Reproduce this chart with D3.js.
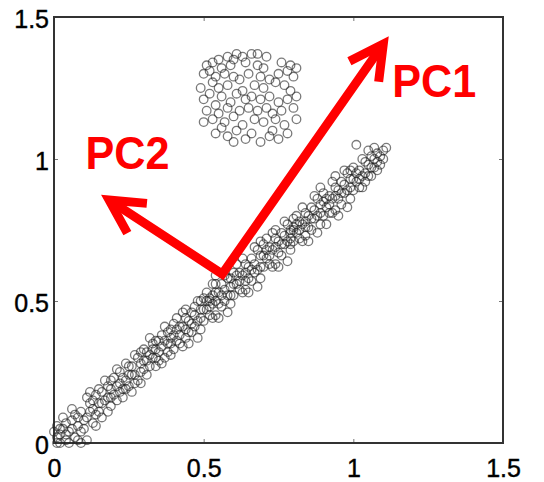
<!DOCTYPE html>
<html lang="en">
  <head>
    <meta charset="utf-8" />
    <title>PCA scatter</title>
    <script src="https://d3js.org/d3.v7.min.js"></script>
    <style type="text/css">
      body {
        margin: 0;
        background: #fff;
      }
      .axis text {
        font-family: "Liberation Sans", Arial, sans-serif;
        font-size: 25px;
        fill: #000;
        stroke: #000;
        stroke-width: 0.4px;
      }
      .axis line {
        stroke: #777;
      }
      .pc-label {
        font-family: "Liberation Sans", Arial, sans-serif;
        font-weight: bold;
        font-size: 46px;
        fill: #f00;
      }
    </style>
  </head>
  <body>
    <script type="text/javascript">
      //Width and height
      var w = 544;
      var h = 482;

      //Tick values
      var tickValues = [0, 0.5, 1, 1.5];

      //Points along the diagonal band
      var bandPoints = [
        [0.01, 0.02], [0.02, 0.0], [0.03, 0.05], [0.01, 0.06], [0.04, 0.01],
        [0.05, 0.04], [0.06, 0.08], [0.03, 0.09], [0.07, 0.02], [0.08, 0.06],
        [0.09, 0.11], [0.06, 0.12], [0.1, 0.05], [0.08, 0.01], [0.02, 0.03],
        [0.05, 0.0], [0.09, 0.0], [0.11, 0.01], [0.04, 0.07], [0.07, 0.1],
        [0.0, 0.04], [0.01, 0.0],
        [0.11, 0.09], [0.12, 0.14], [0.13, 0.07], [0.14, 0.17], [0.15, 0.11],
        [0.16, 0.09], [0.12, 0.18], [0.17, 0.15], [0.18, 0.2], [0.19, 0.13],
        [0.15, 0.19], [0.2, 0.17], [0.13, 0.12], [0.17, 0.22], [0.18, 0.11],
        [0.14, 0.06], [0.11, 0.16], [0.19, 0.19], [0.16, 0.14], [0.2, 0.23],
        [0.21, 0.15], [0.22, 0.25], [0.23, 0.19], [0.24, 0.22], [0.25, 0.27],
        [0.26, 0.18], [0.27, 0.24], [0.28, 0.3], [0.29, 0.21], [0.3, 0.26],
        [0.22, 0.21], [0.24, 0.28], [0.26, 0.24], [0.28, 0.22], [0.21, 0.26],
        [0.25, 0.2], [0.27, 0.31], [0.29, 0.28], [0.23, 0.16], [0.3, 0.33],
        [0.31, 0.24], [0.32, 0.31], [0.33, 0.35], [0.34, 0.27], [0.35, 0.32],
        [0.36, 0.38], [0.37, 0.3], [0.38, 0.35], [0.39, 0.4], [0.4, 0.33],
        [0.31, 0.29], [0.33, 0.3], [0.35, 0.36], [0.37, 0.41], [0.39, 0.31],
        [0.32, 0.37], [0.34, 0.33], [0.36, 0.28], [0.38, 0.39], [0.4, 0.42],
        [0.41, 0.36], [0.42, 0.41], [0.43, 0.34], [0.44, 0.44], [0.45, 0.39],
        [0.46, 0.46], [0.47, 0.41], [0.48, 0.37], [0.49, 0.47], [0.5, 0.43],
        [0.42, 0.38], [0.44, 0.4], [0.46, 0.42], [0.48, 0.5], [0.41, 0.44],
        [0.43, 0.46], [0.45, 0.35], [0.47, 0.48], [0.49, 0.4], [0.5, 0.51],
        [0.51, 0.47], [0.52, 0.51], [0.53, 0.44], [0.54, 0.53], [0.55, 0.49],
        [0.56, 0.56], [0.57, 0.5], [0.58, 0.46], [0.59, 0.55], [0.6, 0.52],
        [0.52, 0.48], [0.54, 0.45], [0.56, 0.52], [0.58, 0.58], [0.51, 0.53],
        [0.53, 0.56], [0.55, 0.44], [0.57, 0.59], [0.59, 0.49], [0.6, 0.6],
        [0.52, 0.5], [0.53, 0.52], [0.54, 0.59],
        [0.61, 0.56], [0.62, 0.6], [0.63, 0.53], [0.64, 0.63], [0.65, 0.58],
        [0.66, 0.65], [0.67, 0.6], [0.68, 0.55], [0.69, 0.66], [0.7, 0.62],
        [0.62, 0.57], [0.64, 0.54], [0.66, 0.61], [0.68, 0.68], [0.61, 0.63],
        [0.63, 0.65], [0.65, 0.53], [0.67, 0.69], [0.69, 0.58], [0.7, 0.7],
        [0.71, 0.65], [0.72, 0.69], [0.73, 0.62], [0.74, 0.72], [0.75, 0.67],
        [0.76, 0.74], [0.77, 0.7], [0.78, 0.64], [0.79, 0.75], [0.8, 0.71],
        [0.72, 0.66], [0.74, 0.63], [0.76, 0.7], [0.78, 0.77], [0.71, 0.72],
        [0.73, 0.74], [0.75, 0.62], [0.77, 0.78], [0.79, 0.68], [0.8, 0.79],
        [0.79, 0.74], [0.8, 0.75],
        [0.81, 0.74], [0.82, 0.78], [0.83, 0.71], [0.84, 0.81], [0.85, 0.76],
        [0.86, 0.83], [0.87, 0.79], [0.88, 0.74], [0.89, 0.84], [0.9, 0.8],
        [0.82, 0.75], [0.84, 0.73], [0.86, 0.79], [0.88, 0.86], [0.81, 0.8],
        [0.83, 0.83], [0.85, 0.71], [0.87, 0.87], [0.89, 0.77], [0.9, 0.88],
        [0.91, 0.83], [0.92, 0.87], [0.93, 0.81], [0.94, 0.9], [0.95, 0.86],
        [0.96, 0.92], [0.97, 0.88], [0.98, 0.83], [0.99, 0.93], [1.0, 0.89],
        [0.92, 0.84], [0.94, 0.82], [0.96, 0.88], [0.98, 0.95], [0.91, 0.77],
        [0.93, 0.92], [0.95, 0.8], [0.97, 0.96], [0.99, 0.86], [1.0, 0.97],
        [1.01, 0.92], [1.02, 0.96], [1.03, 0.9], [1.04, 0.99], [1.05, 0.94],
        [1.06, 1.01], [1.07, 0.97], [1.08, 1.02], [1.09, 0.98], [1.1, 1.03],
        [1.02, 0.93], [1.04, 0.95], [1.06, 0.97], [1.03, 1.0], [1.05, 1.03],
        [1.07, 1.04], [1.08, 0.99], [1.1, 1.0], [1.01, 1.05], [1.11, 1.04]
      ];

      //Extra points filling the band core
      var bandCorePoints = [
        [0.02, 0.05], [0.04, 0.03], [0.06, 0.05], [0.08, 0.09], [0.1, 0.08],
        [0.12, 0.11], [0.13, 0.15], [0.15, 0.14], [0.16, 0.18], [0.18, 0.16],
        [0.19, 0.22], [0.21, 0.2], [0.22, 0.18], [0.23, 0.23], [0.25, 0.24],
        [0.26, 0.27], [0.27, 0.21], [0.29, 0.25], [0.3, 0.29], [0.31, 0.32],
        [0.32, 0.27], [0.33, 0.33], [0.34, 0.36], [0.35, 0.29], [0.36, 0.34],
        [0.37, 0.36], [0.38, 0.32], [0.39, 0.37], [0.4, 0.38], [0.41, 0.4],
        [0.42, 0.35], [0.43, 0.41], [0.44, 0.37], [0.45, 0.43], [0.46, 0.39],
        [0.47, 0.45], [0.48, 0.43], [0.49, 0.44], [0.5, 0.47], [0.51, 0.5],
        [0.52, 0.45], [0.53, 0.49], [0.54, 0.5], [0.55, 0.53], [0.56, 0.48],
        [0.57, 0.54], [0.58, 0.52], [0.59, 0.58], [0.6, 0.56], [0.61, 0.59],
        [0.62, 0.54], [0.63, 0.59], [0.64, 0.6], [0.65, 0.62], [0.66, 0.57],
        [0.67, 0.63], [0.68, 0.61], [0.69, 0.62], [0.7, 0.66], [0.71, 0.68],
        [0.72, 0.63], [0.73, 0.68], [0.74, 0.69], [0.75, 0.71], [0.76, 0.66],
        [0.77, 0.73], [0.78, 0.71], [0.79, 0.72], [0.8, 0.76], [0.81, 0.77],
        [0.82, 0.72], [0.83, 0.77], [0.84, 0.78], [0.85, 0.8], [0.86, 0.75],
        [0.87, 0.82], [0.88, 0.8], [0.89, 0.81], [0.9, 0.85], [0.91, 0.86],
        [0.92, 0.81], [0.93, 0.86], [0.94, 0.87], [0.95, 0.89], [0.96, 0.84],
        [0.97, 0.91], [0.98, 0.89], [0.99, 0.9], [1.0, 0.93], [1.01, 0.95],
        [1.02, 0.9], [1.03, 0.94], [1.04, 0.92], [1.05, 0.98], [1.06, 0.94],
        [1.07, 1.0], [1.08, 0.96], [1.09, 1.01], [0.14, 0.1], [0.24, 0.19],
        [0.34, 0.3], [0.44, 0.47], [0.54, 0.56], [0.64, 0.57], [0.74, 0.75],
        [0.84, 0.76], [0.94, 0.94], [0.09, 0.04], [0.19, 0.16], [0.29, 0.32],
        [0.39, 0.35], [0.49, 0.5], [0.59, 0.52], [0.69, 0.71], [0.79, 0.7],
        [0.89, 0.9], [0.99, 0.96]
      ];

      //Points in the upper cluster
      var clusterPoints = [
        [0.58, 1.36], [0.61, 1.37], [0.63, 1.36], [0.66, 1.37], [0.6, 1.35],
        [0.71, 1.36], [0.55, 1.35], [0.68, 1.37],
        [0.51, 1.33], [0.53, 1.34], [0.56, 1.32], [0.59, 1.33], [0.64, 1.34],
        [0.68, 1.33], [0.7, 1.32], [0.76, 1.34], [0.79, 1.33], [0.78, 1.31],
        [0.52, 1.31], [0.81, 1.32],
        [0.5, 1.3], [0.54, 1.29], [0.57, 1.3], [0.62, 1.28], [0.65, 1.3],
        [0.69, 1.29], [0.72, 1.28], [0.75, 1.3], [0.8, 1.29], [0.53, 1.27],
        [0.6, 1.29],
        [0.49, 1.25], [0.55, 1.25], [0.58, 1.26], [0.63, 1.24], [0.67, 1.26],
        [0.7, 1.25], [0.74, 1.27], [0.77, 1.26], [0.79, 1.24], [0.52, 1.23],
        [0.61, 1.23],
        [0.5, 1.21], [0.56, 1.22], [0.59, 1.2], [0.64, 1.21], [0.66, 1.22],
        [0.69, 1.21], [0.72, 1.22], [0.75, 1.2], [0.78, 1.21], [0.81, 1.22],
        [0.54, 1.19],
        [0.51, 1.17], [0.55, 1.16], [0.58, 1.18], [0.62, 1.17], [0.65, 1.18],
        [0.68, 1.17], [0.71, 1.18], [0.73, 1.16], [0.76, 1.17], [0.8, 1.18],
        [0.6, 1.15],
        [0.5, 1.13], [0.53, 1.14], [0.57, 1.13], [0.63, 1.12], [0.67, 1.14],
        [0.7, 1.13], [0.74, 1.14], [0.77, 1.12], [0.81, 1.14], [0.56, 1.11],
        [0.54, 1.09], [0.58, 1.08], [0.61, 1.1], [0.64, 1.07], [0.66, 1.09],
        [0.69, 1.06], [0.72, 1.08], [0.75, 1.07], [0.78, 1.09], [0.6, 1.06],
        [0.73, 1.1]
      ];

      //Principal component arrows (data units)
      var arrowOrigin = [0.562, 0.595];
      var arrowEnds = [
        { name: "PC1", end: [1.1, 1.405], label: [1.13, 1.22] },
        { name: "PC2", end: [0.184, 0.856], label: [0.105, 0.965] }
      ];

      var margin = { top: 17, right: 41, bottom: 39, left: 54 };
      var iw = w - margin.left - margin.right;
      var ih = h - margin.top - margin.bottom;

      var xScale = d3.scaleLinear().domain([0, 1.5]).range([0, iw]);
      var yScale = d3.scaleLinear().domain([0, 1.5]).range([ih, 0]);

      //Create SVG element
      var svg = d3
        .select("body")
        .append("svg")
        .attr("width", w)
        .attr("height", h);

      var g = svg
        .append("g")
        .attr("transform", "translate(" + margin.left + "," + margin.top + ")");

      //Axes with small inward ticks
      var fmt = function (d) {
        return d3.format("")(d);
      };

      g.append("g")
        .attr("class", "axis")
        .attr("transform", "translate(0," + ih + ")")
        .call(
          d3.axisBottom(xScale).tickValues(tickValues).tickSize(-4).tickPadding(16).tickFormat(fmt)
        )
        .call(function (a) {
          a.select(".domain").remove();
        });

      g.append("g")
        .attr("class", "axis")
        .call(
          d3.axisLeft(yScale).tickValues(tickValues).tickSize(-4).tickPadding(5).tickFormat(fmt)
        )
        .call(function (a) {
          a.select(".domain").remove();
          a.selectAll("text").attr("dy", "0.4em");
        });

      g.append("g")
        .attr("class", "axis")
        .call(d3.axisTop(xScale).tickValues([0.5, 1]).tickSize(-4).tickFormat(""))
        .call(function (a) {
          a.select(".domain").remove();
        });

      g.append("g")
        .attr("class", "axis")
        .attr("transform", "translate(" + iw + ",0)")
        .call(d3.axisRight(yScale).tickValues([0.5, 1]).tickSize(-4).tickFormat(""))
        .call(function (a) {
          a.select(".domain").remove();
        });

      //Frame
      g.append("rect")
        .attr("width", iw)
        .attr("height", ih)
        .attr("fill", "none")
        .attr("stroke", "#333")
        .attr("stroke-width", 2);

      //Create circles
      g.selectAll("circle.pt")
        .data(bandPoints.concat(bandCorePoints, clusterPoints))
        .enter()
        .append("circle")
        .attr("class", "pt")
        .attr("cx", function (d) {
          return xScale(d[0]);
        })
        .attr("cy", function (d) {
          return yScale(d[1]);
        })
        .attr("r", 4.3)
        .attr("fill", "none")
        .attr("stroke", "#222")
        .attr("stroke-opacity", 0.6)
        .attr("stroke-width", 1.3);

      //Arrows
      var ox = xScale(arrowOrigin[0]);
      var oy = yScale(arrowOrigin[1]);
      var ends = arrowEnds.map(function (a) {
        return [xScale(a.end[0]), yScale(a.end[1])];
      });

      g.append("path")
        .attr(
          "d",
          "M" + ends[1][0] + "," + ends[1][1] + "L" + ox + "," + oy + "L" + ends[0][0] + "," + ends[0][1]
        )
        .attr("fill", "none")
        .attr("stroke", "#f00")
        .attr("stroke-width", 9)
        .attr("stroke-linejoin", "miter");

      //Arrow heads: open chevrons
      var headLen = 38;
      var headAng = (28 * Math.PI) / 180;
      ends.forEach(function (e) {
        var ang = Math.atan2(oy - e[1], ox - e[0]);
        var p1 = [e[0] + headLen * Math.cos(ang + headAng), e[1] + headLen * Math.sin(ang + headAng)];
        var p2 = [e[0] + headLen * Math.cos(ang - headAng), e[1] + headLen * Math.sin(ang - headAng)];
        g.append("path")
          .attr("d", "M" + p1 + "L" + e + "L" + p2)
          .attr("fill", "none")
          .attr("stroke", "#f00")
          .attr("stroke-width", 9)
          .attr("stroke-linejoin", "miter");
      });

      //Labels
      g.selectAll("text.pc-label")
        .data(arrowEnds)
        .enter()
        .append("text")
        .attr("class", "pc-label")
        .attr("x", function (d) {
          return xScale(d.label[0]);
        })
        .attr("y", function (d) {
          return yScale(d.label[1]);
        })
        .attr("textLength", 84)
        .attr("lengthAdjust", "spacingAndGlyphs")
        .text(function (d) {
          return d.name;
        });
    </script>
  </body>
</html>
